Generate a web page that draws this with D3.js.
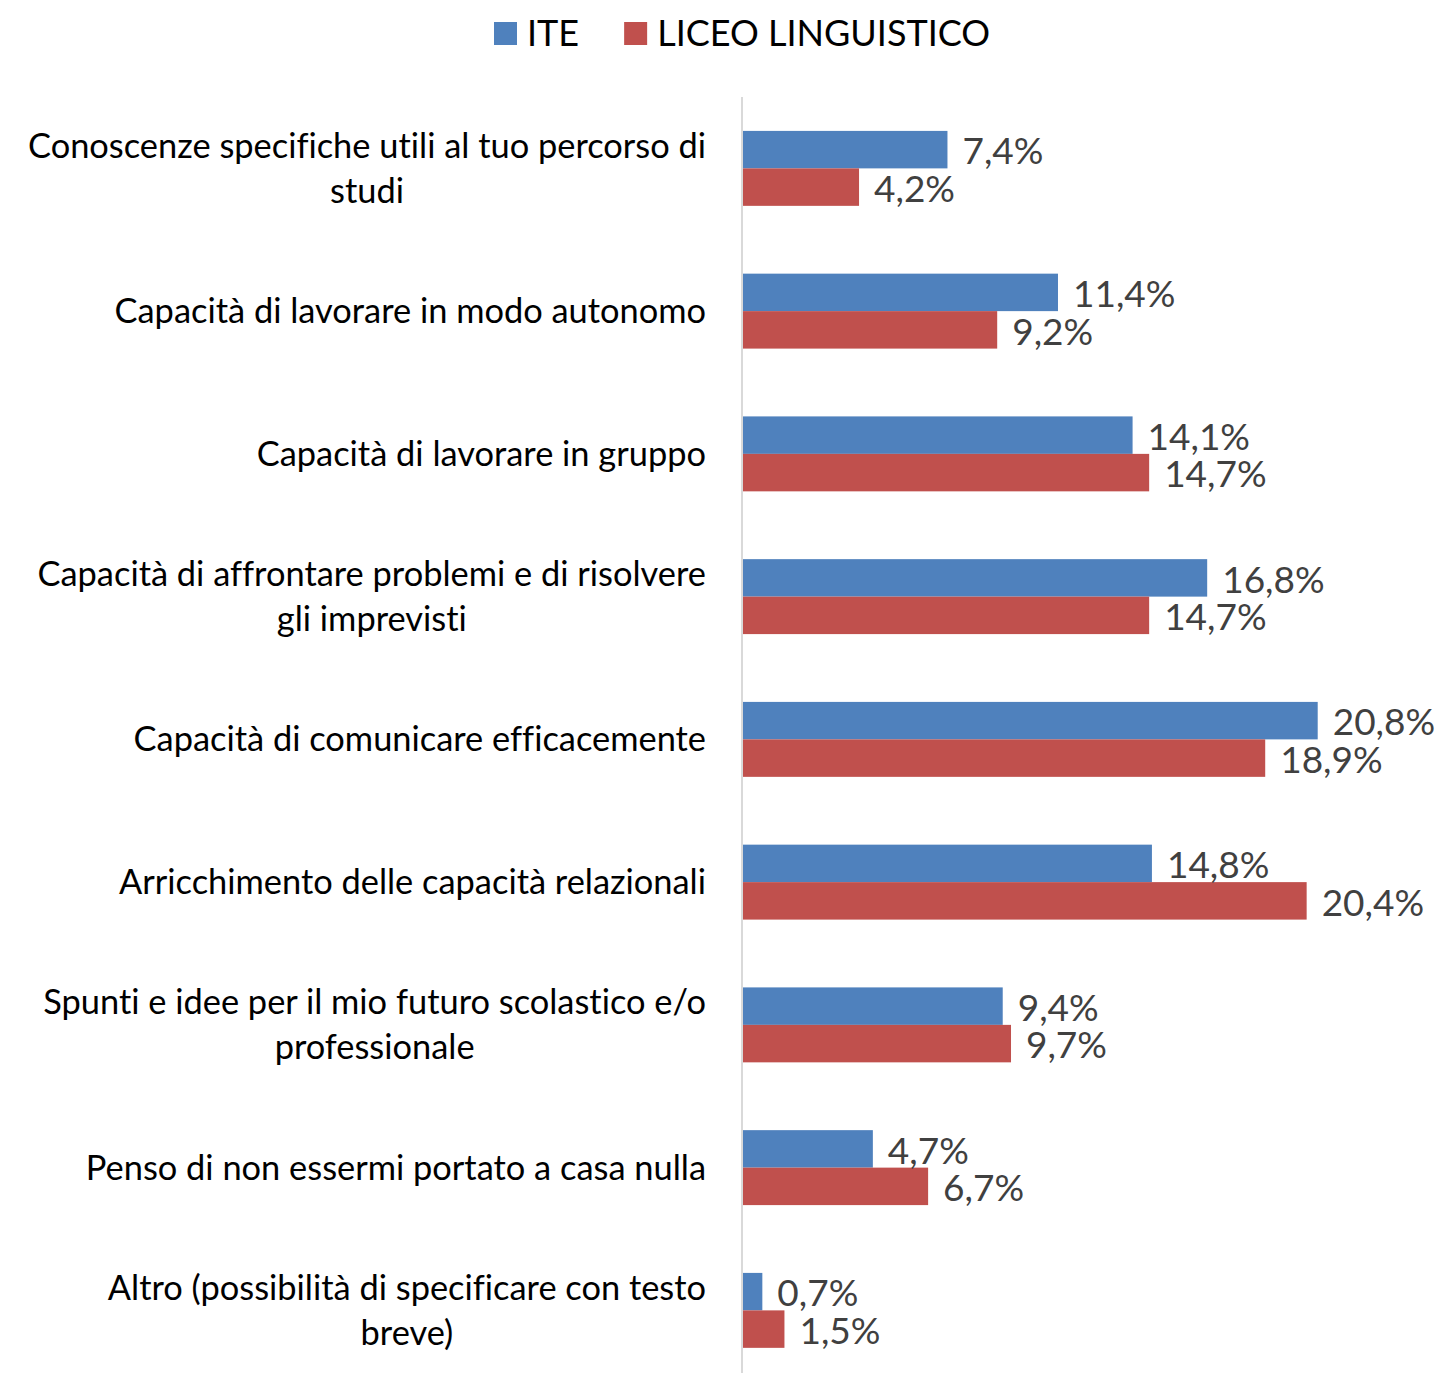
<!DOCTYPE html>
<html>
<head>
<meta charset="utf-8">
<script src="https://cdn.jsdelivr.net/npm/d3@7"></script>
<style>
  body { margin: 0; background: #fff; }
  svg text { font-family: Lato, "Open Sans", sans-serif; font-variant-ligatures: none; font-feature-settings: "liga" 0; }
</style>
</head>
<body>
<svg id="chart" width="1447" height="1373"></svg>
<script>
var categories = [
    ['Conoscenze specifiche utili al tuo percorso di', 'studi'],
    ['Capacità di lavorare in modo autonomo'],
    ['Capacità di lavorare in gruppo'],
    ['Capacità di affrontare problemi e di risolvere', 'gli imprevisti'],
    ['Capacità di comunicare efficacemente'],
    ['Arricchimento delle capacità relazionali'],
    ['Spunti e idee per il mio futuro scolastico e/o', 'professionale'],
    ['Penso di non essermi portato a casa nulla'],
    ['Altro (possibilità di specificare con testo', 'breve)']
];
var seriesNames = ['ITE', 'LICEO LINGUISTICO'];
var iteValues   = [7.4, 11.4, 14.1, 16.8, 20.8, 14.8, 9.4, 4.7, 0.7];
var liceoValues = [4.2, 9.2, 14.7, 14.7, 18.9, 20.4, 9.7, 6.7, 1.5];
var colors = ['#4F81BD', '#C0504D'];

(function(){
    'use strict';

    var svg = d3.select('#chart'),
        axisX = 742,
        labelRight = 706,
        catSize = 34.4,
        valSize = 37,
        legendSize = 36;

    var rows = categories.map(function( lines, i ){
        return { lines : lines, values : [ iteValues[i], liceoValues[i] ] };
    });

    var x = d3.scaleLinear().domain([0, 22]).range([axisX, axisX + 22 * 27.63]);

    var y = d3.scaleBand()
        .domain(d3.range(categories.length))
        .range([97, 97 + categories.length * 142.75])
        .paddingInner(0.475)
        .paddingOuter(0.2375);

    var ys = d3.scaleBand()
        .domain(d3.range(seriesNames.length))
        .range([0, y.bandwidth()]);

    var fmt = function( v ){ return d3.format('.1f')(v).replace('.', ',') + '%'; };

    // vertical category axis line
    svg.append('line')
        .attr('x1', axisX).attr('x2', axisX)
        .attr('y1', 97).attr('y2', 1373)
        .attr('stroke', '#d9d9d9')
        .attr('stroke-width', 2);

    var group = svg.selectAll('g.cat')
        .data(rows)
        .enter().append('g')
        .attr('class', 'cat')
        .attr('transform', function( d, i ){ return 'translate(0,' + y(i) + ')'; });

    group.selectAll('rect')
        .data(function( d ){ return d.values; })
        .enter().append('rect')
        .attr('x', x(0) + 1)
        .attr('y', function( v, j ){ return ys(j); })
        .attr('width', function( v ){ return x(v) - x(0); })
        .attr('height', ys.bandwidth())
        .attr('fill', function( v, j ){ return colors[j]; });

    group.selectAll('text.val')
        .data(function( d ){ return d.values; })
        .enter().append('text')
        .attr('class', 'val')
        .attr('x', function( v ){ return x(v) + 16; })
        .attr('y', function( v, j ){ return ys(j) + ys.bandwidth() / 2 + 1.5; })
        .attr('dy', '0.36em')
        .attr('font-size', valSize)
        .attr('fill', '#404040')
        .text(fmt);

    // category labels: lines centred on each other, block right-aligned
    group.each(function( d ){
        var g = d3.select(this),
            lineH = 45,
            mid = y.bandwidth() / 2,
            top = mid - (d.lines.length - 1) * lineH / 2;

        var label = g.append('text')
            .attr('font-size', catSize)
            .attr('fill', '#000')
            .attr('text-anchor', 'middle');

        d.lines.forEach(function( line, k ){
            label.append('tspan')
                .attr('x', 0)
                .attr('y', top + k * lineH)
                .attr('dy', '0.35em')
                .text(line);
        });

        var w = label.node().getBBox().width;
        label.selectAll('tspan').attr('x', labelRight - w / 2);
    });

    // legend
    var legend = svg.append('g').attr('class', 'legend');
    var lx = 494;
    seriesNames.forEach(function( name, j ){
        legend.append('rect')
            .attr('x', lx).attr('y', 22)
            .attr('width', 23).attr('height', 23)
            .attr('fill', colors[j]);
        var t = legend.append('text')
            .attr('x', lx + 33).attr('y', 33.5)
            .attr('dy', '0.36em')
            .attr('font-size', legendSize)
            .attr('fill', '#000')
            .text(name);
        lx += 33 + t.node().getComputedTextLength() + 45;
    });
})();
</script>
</body>
</html>
